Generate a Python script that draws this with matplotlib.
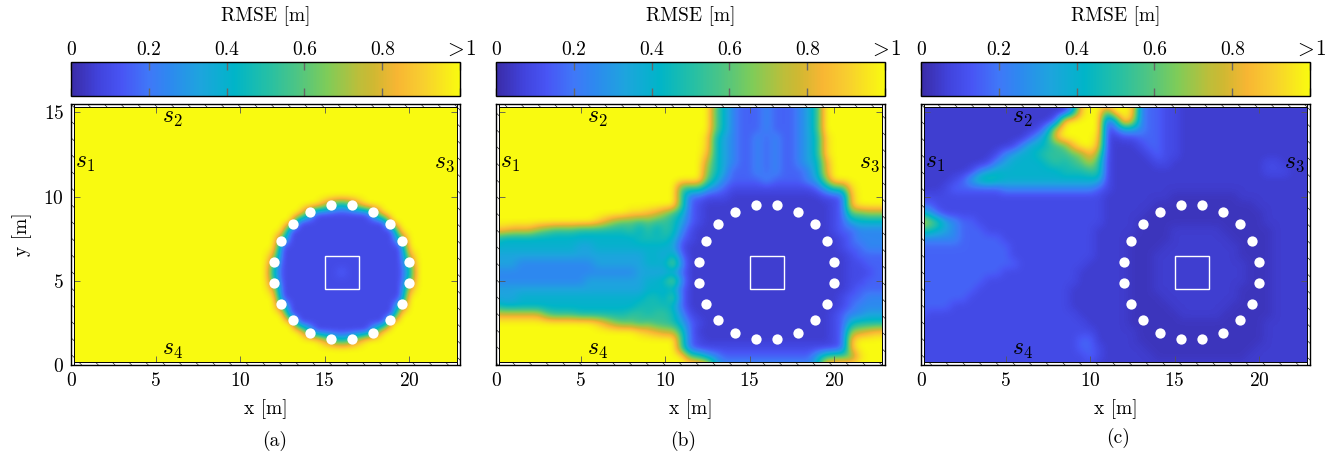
import numpy as np
import matplotlib
matplotlib.use('Agg')
import matplotlib.pyplot as plt
from matplotlib.colors import LinearSegmentedColormap
from matplotlib.patches import Rectangle

plt.rcParams['font.family'] = 'cmr10'
plt.rcParams['mathtext.fontset'] = 'cm'
plt.rcParams['axes.formatter.use_mathtext'] = True
plt.rcParams['hatch.linewidth'] = 0.4

# RMSE on a 0.5 m grid, top row is y = 15.5
# one hex digit per cell, looked up in rmse_levels, f means 1 m or more
rmse_levels = [0.03, 0.055, 0.095, 0.16, 0.25, 0.33, 0.4, 0.47, 0.53, 0.6, 0.67, 0.73, 0.8, 0.87, 0.93, 1.0]

circle_rows = [
    "fffffffc868cfffffff",
    "fffff822222228fffff",
    "ffff22222222222ffff",
    "fff2222222222222fff",
    "ff82222222222222 8ff",
    "ff222222222222222ff",
    "fc222222222222222cf",
    "f8222222222222222 8f",
    "f6222222232222222 6f",
    "f8222222222222222 8f",
    "fc222222222222222cf",
    "ff222222222222222ff",
    "ff82222222222222 8ff",
    "fff2222222222222fff",
    "ffff22222222222ffff",
    "fffff822222228fffff",
    "fffffffc868cfffffff",
]
rmse_a = ["f" * 47] * 12 + ["f" * 23 + r + "f" * 5 for r in circle_rows] + ["f" * 47] * 3

rmse_b = [
    "fffff fffff fffff fffff fffff f9643 33433 3458f fffff ff",
    "fffff fffff fffff fffff fffff f9643 33433 3458f fffff ff",
    "fffff fffff fffff fffff fffff f9643 33433 3458f fffff ff",
    "fffff fffff fffff fffff fffff f9643 33433 3458f fffff ff",
    "fffff fffff fffff fffff fffff e7543 34343 3457e fffff ff",
    "fffff fffff fffff fffff fffff e7543 34343 3457e fffff ff",
    "fffff fffff fffff fffff fffff d7543 34343 3457e fffff ff",
    "fffff fffff fffff fffff fffff b7543 34343 3456c fffff ff",
    "fffff fffff fffff fffff fffff a7533 34343 3346c fffff ff",
    "fffff fffff fffff fffff fffff 96433 33433 3345a fffff ff",
    "fffff fffff fffff fffff ff888 54322 22222 22235 88eff ff",
    "fffff fffff fffff fffff ff833 22211 11111 11112 23dff ff",
    "fffff fffff fffff fffff ff832 11111 11111 11111 23dff ff",
    "fffff fffff fffff feedc a8632 11111 11111 11111 2399a aa",
    "fffff fffff ffeca 99898 87532 11111 11111 11111 23566 66",
    "ddccc a9888 77777 78686 87421 11111 11111 11111 23344 44",
    "76666 66666 66666 66777 76321 11111 11111 11111 12344 44",
    "66666 66666 55666 66666 65211 11111 11111 11111 12334 44",
    "55555 55555 55555 55566 57311 11111 11111 11111 11233 33",
    "55544 44444 44555 55566 6a411 11111 11111 11111 11223 33",
    "44444 44444 44444 44555 55311 11111 11111 11111 11222 33",
    "44444 44444 45555 55566 7a411 11111 11111 11111 11223 33",
    "55555 55555 55555 55566 66311 11111 11111 11111 11233 33",
    "55566 66666 66666 66677 69311 11111 11111 11111 12334 44",
    "76666 66666 66666 66777 76311 11111 11111 11111 12344 44",
    "ccccc c9888 77777 78878 87421 11111 11111 11111 23445 55",
    "fffff fffff ffeca 99898 87532 11111 11111 11111 23677 77",
    "fffff fffff fffff ffedc bb731 11111 11111 11111 23abc dd",
    "fffff fffff fffff fffff ff832 11111 11111 11111 23dff ff",
    "fffff fffff fffff fffff ff832 22222 22222 22222 23dff ff",
    "fffff fffff fffff fffff fff98 54333 33333 33358 999ef ff",
    "fffff fffff fffff fffff fffff e6444 44444 4446e fffff ff",
]

rmse_c = [
    "11111 11111 11111 1114e fffff e4332 21111 11111 11111 11",
    "11111 11111 11111 1116e ff8ff e4332 21111 11111 11111 11",
    "11111 11111 11111 13eff ff35f c4332 21111 11111 11111 11",
    "11111 11111 11112 5cfff ff235 54332 21111 11111 11111 11",
    "11111 11111 11135 7dfff fe212 23332 21111 11111 11111 11",
    "11111 11111 12466 789df fd211 12332 21111 11111 11111 11",
    "11111 11112 45667 8889a da211 11232 21111 11111 11111 11",
    "11111 11124 56666 78789 b8211 11122 11111 11111 12211 11",
    "11111 12456 66666 66777 88211 11111 11111 11111 12221 11",
    "11112 35787 66666 66666 66211 11111 11111 11111 11111 11",
    "11123 33333 44444 44444 43211 11111 11111 11111 11111 11",
    "22222 22222 22222 22222 22111 11111 00000 00011 11111 11",
    "33222 22222 22222 22222 22111 11100 00000 00000 11111 11",
    "75322 22222 22222 22222 22111 11000 00000 00000 01111 11",
    "ca854 33222 22222 22222 22111 10000 00000 00000 01111 11",
    "87654 33322 22222 22222 21111 10000 11111 10000 00111 11",
    "44444 33333 22222 22222 21111 00000 11111 11000 00111 11",
    "33333 33333 32222 22222 21111 00001 11111 11100 00111 11",
    "33333 33333 32222 22222 21111 00011 11111 11100 00111 11",
    "33333 33333 33222 22222 11111 00011 11111 11110 00111 11",
    "33333 33333 22222 22221 11111 00011 11111 11110 00111 11",
    "33333 33322 22222 22221 11111 00011 11111 11110 00111 11",
    "33333 33222 22222 22211 11111 00011 11111 11100 00111 11",
    "33333 32222 22222 22211 11111 00001 11111 11100 00111 11",
    "33332 22222 22222 22211 11111 00000 11111 11000 00111 11",
    "32222 22222 22222 22221 11111 00000 01111 10000 00111 11",
    "22222 22222 22222 22222 11111 00000 00000 00000 01111 11",
    "22222 22222 22222 22222 21111 10000 00000 00000 01111 11",
    "22222 22222 22222 22223 31111 10000 00000 00000 01111 11",
    "22222 22222 22222 22223 32111 11000 00000 00000 11111 11",
    "22222 22222 22222 22222 32111 11100 00000 00001 11111 11",
    "22222 22222 22222 22222 21111 11111 11111 11111 11111 11",
]

# microphones
mic_x = [20.0, 19.6, 18.85, 17.85, 16.63, 15.37, 14.15, 13.15, 12.4, 12.0,
         12.0, 12.4, 13.15, 14.15, 15.37, 16.63, 17.85, 18.85, 19.6, 20.0]
mic_y = [6.13, 7.35, 8.35, 9.1, 9.48, 9.48, 9.1, 8.35, 7.35, 6.13,
         4.87, 3.65, 2.65, 1.9, 1.52, 1.52, 1.9, 2.65, 3.65, 4.87]

cbar_ticks = [0, 0.2, 0.4, 0.6, 0.8, 1]
cbar_labels = ['0', '0.2', '0.4', '0.6', '0.8', r'$>\!1\,$']
captions = ['(a)', '(b)', '(c)']

cmap = LinearSegmentedColormap.from_list('rmse', [
    (0.0, '#3a2ca8'), (0.07, '#4143dc'), (0.13, '#4855f5'), (0.2, '#3f78f8'),
    (0.25, '#2e88f0'), (0.33, '#1ea4de'), (0.42, '#00b5c8'), (0.5, '#22bfa8'),
    (0.58, '#4cc585'), (0.66, '#7fcc58'), (0.74, '#bcbe3a'), (0.78, '#d0b832'),
    (0.84, '#f8b633'), (0.9, '#f8cc30'), (1.0, '#f9fa10')])


def decode(rows):
    rows = [r.replace(' ', '') for r in rows]
    return np.array([[rmse_levels[int(c, 16)] for c in r] for r in rows])


def px_axes(fig, left, top, right, bottom):
    return fig.add_axes([left / 1335, 1 - bottom / 453, (right - left) / 1335, (bottom - top) / 453])


fig = plt.figure(figsize=(13.35, 4.53), dpi=100)
FS = 14

panels = [(71, 460, rmse_a, 275, 441), (496, 885, rmse_b, 683, 441), (921, 1310, rmse_c, 1118, 438)]
for n, (left, right, rows, cap_x, cap_y) in enumerate(panels):
    ax = px_axes(fig, left, 104, right, 365)
    im = ax.imshow(decode(rows), extent=(-0.25, 23.25, -0.25, 15.75), origin='upper', aspect='auto',
                   interpolation='bicubic', cmap=cmap, vmin=0, vmax=1, zorder=0)
    ax.set_xlim(0, 23)
    ax.set_ylim(0, 15.5)

    # walls
    for xy, w, h in [((0, 0), 23, 0.2), ((0, 15.3), 23, 0.2), ((0, 0), 0.2, 15.5), ((22.8, 0), 0.2, 15.5)]:
        ax.add_patch(Rectangle(xy, w, h, fc='white', ec='black', lw=0.7, hatch='\\\\', zorder=3))

    ax.plot(mic_x, mic_y, 'o', color='white', ms=7.4, mew=0, zorder=4)
    ax.add_patch(Rectangle((15, 4.5), 2, 2, fc='none', ec='white', lw=1, zorder=4))

    for lab, x, y in [('$s_1$', 0.85, 12.0), ('$s_2$', 6.0, 14.7), ('$s_3$', 22.05, 12.0), ('$s_4$', 6.0, 0.9)]:
        ax.text(x, y, lab, fontsize=17, ha='center', va='center', zorder=5)

    ax.set_xticks([0, 5, 10, 15, 20])
    ax.set_yticks([0, 5, 10, 15])
    ax.tick_params(direction='in', length=6.5, width=0.6, color='#555555', top=True, right=True,
                   labelsize=FS, pad=5)
    if n > 0:
        ax.set_yticklabels([])
    else:
        ax.set_ylabel('y [m]', fontsize=FS, labelpad=8)
    ax.set_xlabel('x [m]', fontsize=FS, labelpad=7)
    for s in ax.spines.values():
        s.set_linewidth(1.0)
        s.set_zorder(6)

    cax = px_axes(fig, left, 62, right, 96)
    cb = fig.colorbar(im, cax=cax, orientation='horizontal')
    cb.set_ticks(cbar_ticks)
    cb.set_ticklabels(cbar_labels)
    cax.tick_params(axis='x', direction='in', length=6, width=1, color='#666666', top=True, bottom=True,
                    labeltop=True, labelbottom=False, labelsize=FS, pad=2)
    cax.get_xticklabels()[-1].set_fontsize(15.5)
    cax.xaxis.set_label_position('top')
    cb.set_label('RMSE [m]', fontsize=FS, labelpad=13.5)
    cb.outline.set_linewidth(1.0)

    fig.text(cap_x / 1335, 1 - cap_y / 453, captions[n], fontsize=FS, ha='center', va='center')

fig.savefig('out.png', dpi=100)
